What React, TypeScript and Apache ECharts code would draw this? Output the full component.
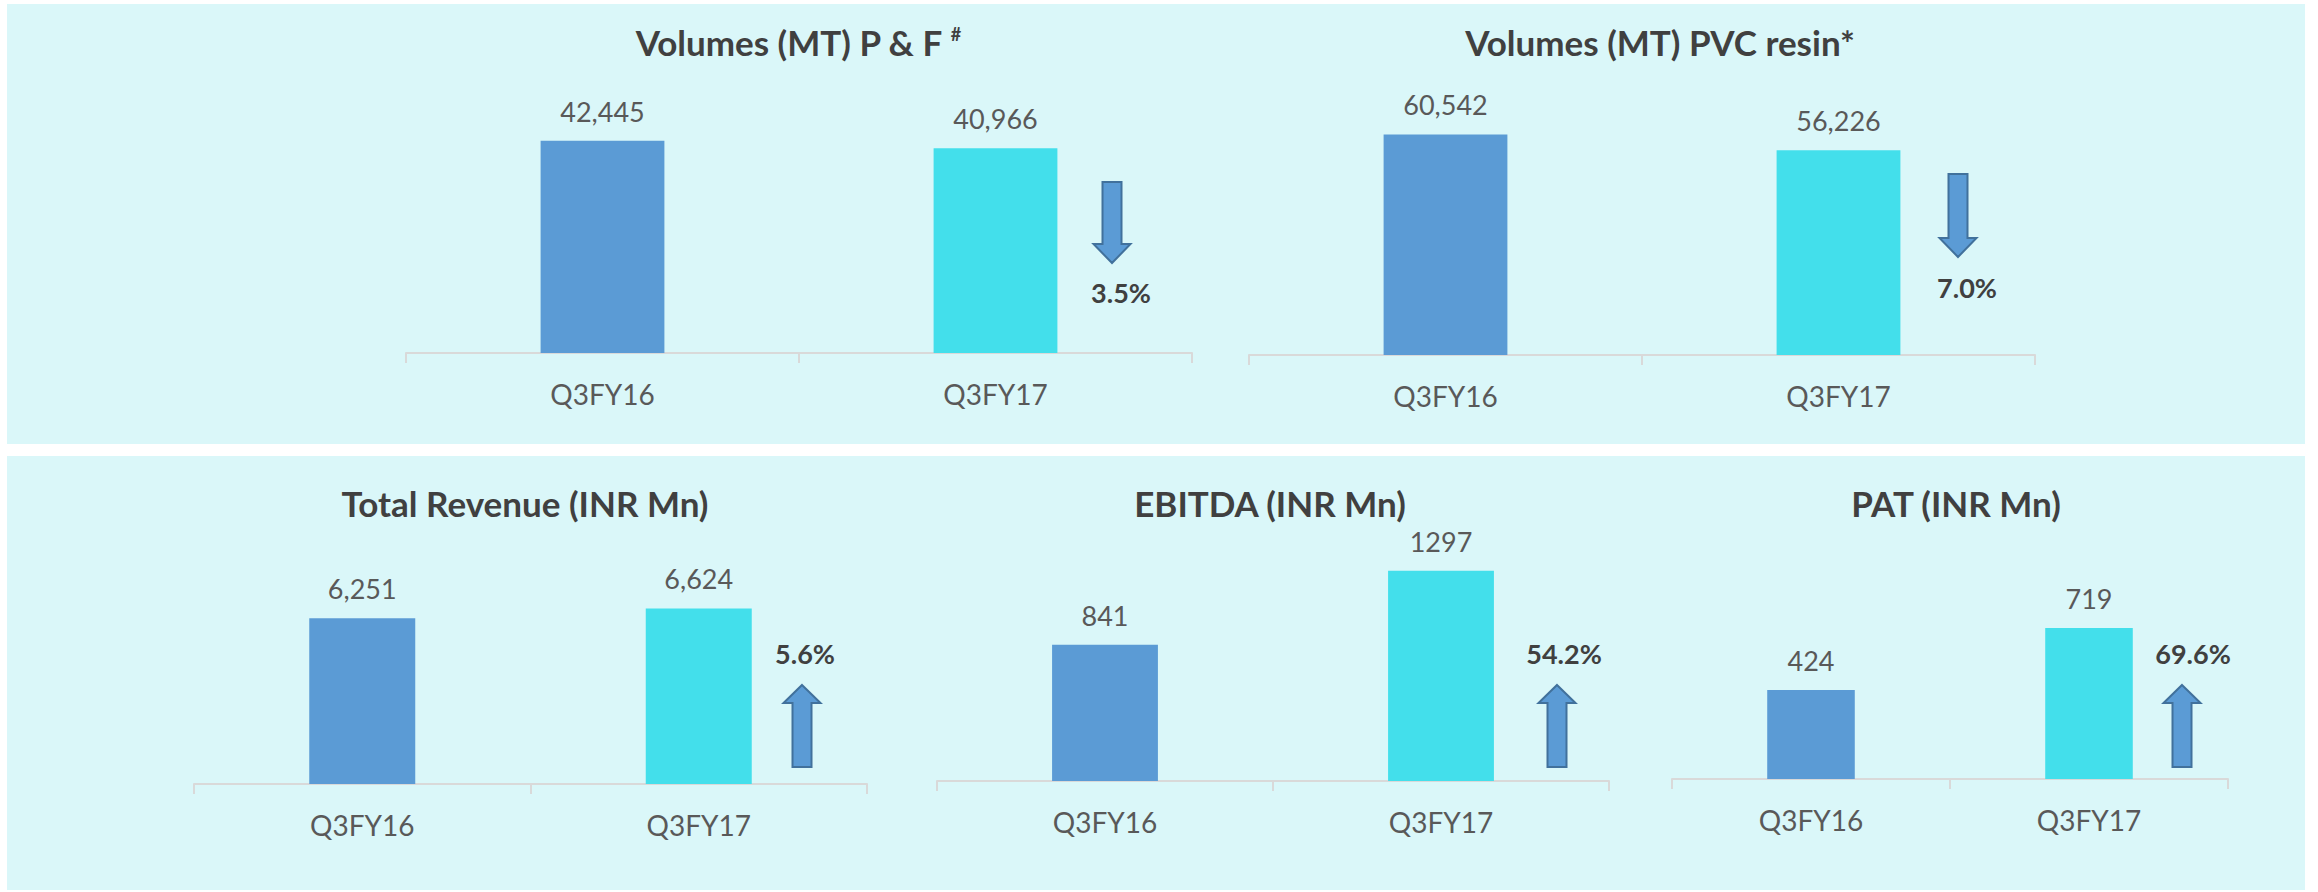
import React, { useEffect, useRef } from "react";
import * as echarts from "echarts";

// ---- data ----
const categories = ["Q3FY16", "Q3FY17"];
const titles = [
  "Volumes (MT) P & F",
  "Volumes (MT) PVC resin*",
  "Total Revenue (INR Mn)",
  "EBITDA (INR Mn)",
  "PAT (INR Mn)",
];
const volumesPF = [42445, 40966];
const volumesPVC = [60542, 56226];
const totalRevenue = [6251, 6624];
const ebitda = [841, 1297];
const pat = [424, 719];
const changeLabels = ["3.5%", "7.0%", "5.6%", "54.2%", "69.6%"];
const changeDirections = ["down", "down", "up", "up", "up"];
const axisMax = [50000, 70000, 8000, 1400, 800];
const useThousandsSep = [true, true, true, false, false];

// ---- layout / style ----
const W = 2318;
const H = 892;
const FONT = "Lato, 'Open Sans', sans-serif";
const BAR_COLORS = ["#5B9BD5", "#43DFEB"];
const PANEL_BG = "#DAF7F9";

const grids = [
  { left: 406, top: 103, width: 786, height: 250 },
  { left: 1249, top: 100, width: 786, height: 255 },
  { left: 194, top: 572, width: 673, height: 212 },
  { left: 937, top: 554, width: 672, height: 227 },
  { left: 1672, top: 611, width: 556, height: 168 },
];
const titlePos = [
  { x: 798, y: 42 },
  { x: 1660, y: 42 },
  { x: 525, y: 503 },
  { x: 1270, y: 503 },
  { x: 1956, y: 503 },
];
const arrowPos = [
  { cx: 1112, top: 182, headBase: 244, bottom: 263 },
  { cx: 1958, top: 174, headBase: 238, bottom: 257 },
  { cx: 802, top: 685, headBase: 703, bottom: 767 },
  { cx: 1557, top: 685, headBase: 703, bottom: 767 },
  { cx: 2182, top: 685, headBase: 703, bottom: 767 },
];
const changePos = [
  { x: 1121, y: 292 },
  { x: 1967, y: 287 },
  { x: 805, y: 653 },
  { x: 1564, y: 653 },
  { x: 2193, y: 653 },
];

const seriesData = [volumesPF, volumesPVC, totalRevenue, ebitda, pat];

function arrowPoints(a: { cx: number; top: number; headBase: number; bottom: number }, dir: string) {
  const sw = 9.5;
  const hw = 18.5;
  if (dir === "down") {
    return [
      [a.cx - sw, a.top],
      [a.cx + sw, a.top],
      [a.cx + sw, a.headBase],
      [a.cx + hw, a.headBase],
      [a.cx, a.bottom],
      [a.cx - hw, a.headBase],
      [a.cx - sw, a.headBase],
    ];
  }
  // up arrow: tip at top
  return [
    [a.cx, a.top],
    [a.cx + hw, a.headBase],
    [a.cx + sw, a.headBase],
    [a.cx + sw, a.bottom],
    [a.cx - sw, a.bottom],
    [a.cx - sw, a.headBase],
    [a.cx - hw, a.headBase],
  ];
}

function buildOption() {
  const grid = grids.map((g) => ({ ...g, containLabel: false }));
  const xAxis = grids.map((_, i) => ({
    type: "category",
    gridIndex: i,
    data: categories,
    axisLine: { show: true, lineStyle: { color: "#D9D9D9", width: 2 } },
    axisTick: { show: true, length: 10, lineStyle: { color: "#D9D9D9", width: 2 } },
    axisLabel: { margin: 27, fontSize: 28, color: "#595959", fontFamily: FONT },
    splitLine: { show: false },
  }));
  const yAxis = grids.map((_, i) => ({
    type: "value",
    gridIndex: i,
    min: 0,
    max: axisMax[i],
    show: false,
    splitLine: { show: false },
  }));
  const series = seriesData.map((vals, i) => ({
    type: "bar",
    name: titles[i],
    xAxisIndex: i,
    yAxisIndex: i,
    barWidth: "31.5%",
    data: vals.map((v, j) => ({ value: v, itemStyle: { color: BAR_COLORS[j] } })),
    label: {
      show: true,
      position: "top",
      distance: 16,
      fontSize: 27,
      color: "#595959",
      fontFamily: FONT,
      formatter: (p: any) =>
        useThousandsSep[i] ? Number(p.value).toLocaleString("en-US") : String(p.value),
    },
  }));

  const graphic: any[] = [
    { type: "rect", z: -10, shape: { x: 7, y: 4, width: 2298, height: 440 }, style: { fill: PANEL_BG } },
    { type: "rect", z: -10, shape: { x: 7, y: 456, width: 2298, height: 434 }, style: { fill: PANEL_BG } },
  ];
  titles.forEach((t, i) => {
    graphic.push({
      type: "text",
      x: titlePos[i].x,
      y: titlePos[i].y,
      z: 10,
      style: {
        text: i === 0 ? t + " {sup|#}" : t,
        fontSize: 35,
        fontWeight: "bold",
        fontFamily: FONT,
        fill: "#404040",
        textAlign: "center",
        textVerticalAlign: "middle",
        rich: i === 0 ? { sup: { fontSize: 18, fontWeight: "bold", fontFamily: FONT, fill: "#404040", verticalAlign: "top", padding: [0, 0, 16, 0] } } : undefined,
      },
    });
  });
  arrowPos.forEach((a, i) => {
    graphic.push({
      type: "polygon",
      z: 10,
      shape: { points: arrowPoints(a, changeDirections[i]) },
      style: { fill: "#5B9BD5", stroke: "#41719C", lineWidth: 2 },
    });
    graphic.push({
      type: "text",
      x: changePos[i].x,
      y: changePos[i].y,
      z: 10,
      style: {
        text: changeLabels[i],
        fontSize: 27,
        fontWeight: "bold",
        fontFamily: FONT,
        fill: "#404040",
        textAlign: "center",
        textVerticalAlign: "middle",
      },
    });
  });

  return {
    animation: false,
    backgroundColor: "#FFFFFF",
    grid,
    xAxis,
    yAxis,
    series,
    graphic,
  };
}

export default function App() {
  const ref = useRef<HTMLDivElement>(null);
  useEffect(() => {
    if (!ref.current) return;
    const chart = echarts.init(ref.current, undefined, { renderer: "svg", width: W, height: H });
    chart.setOption(buildOption() as any);
    return () => chart.dispose();
  }, []);
  return (
    <div
      ref={ref}
      style={{ position: "absolute", left: 0, top: 0, width: W, height: H }}
    />
  );
}
